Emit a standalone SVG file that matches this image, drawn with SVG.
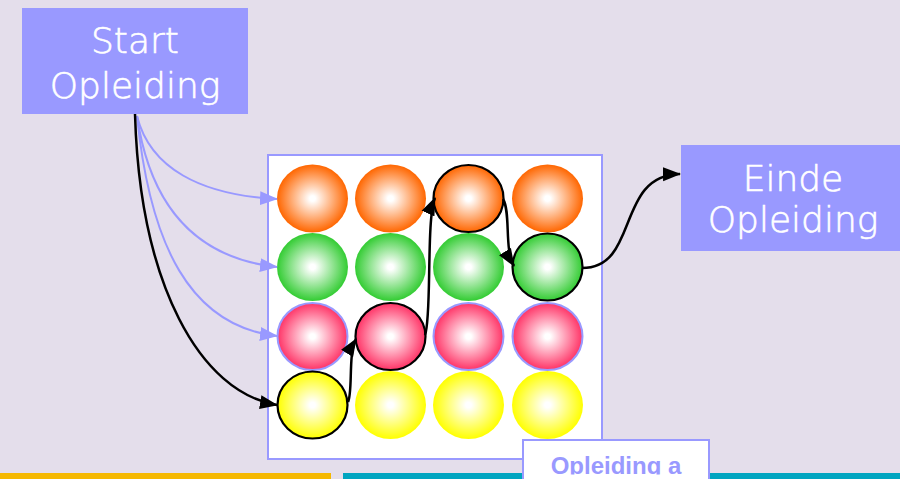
<svg xmlns="http://www.w3.org/2000/svg" width="900" height="479" viewBox="0 0 900 479">
<defs>
<radialGradient id="gO" cx="50%" cy="50%" r="50%"><stop offset="0" stop-color="#fff"/><stop offset="0.08" stop-color="#fff"/><stop offset="1" stop-color="#ff6600"/></radialGradient>
<radialGradient id="gG" cx="50%" cy="50%" r="50%"><stop offset="0" stop-color="#fff"/><stop offset="0.08" stop-color="#fff"/><stop offset="1" stop-color="#33cc33"/></radialGradient>
<radialGradient id="gR" cx="50%" cy="50%" r="50%"><stop offset="0" stop-color="#fff"/><stop offset="0.08" stop-color="#fff"/><stop offset="1" stop-color="#ff3366"/></radialGradient>
<radialGradient id="gY" cx="50%" cy="50%" r="50%"><stop offset="0" stop-color="#fff"/><stop offset="0.08" stop-color="#fff"/><stop offset="1" stop-color="#ffff00"/></radialGradient>
<marker id="aK" markerWidth="18" markerHeight="16" refX="17" refY="8" orient="auto" markerUnits="userSpaceOnUse"><path d="M0,1 L18,8 L0,15 Z" fill="#000"/></marker>
<marker id="aB" markerWidth="18" markerHeight="16" refX="17" refY="8" orient="auto" markerUnits="userSpaceOnUse"><path d="M0,1 L18,8 L0,15 Z" fill="#9999ff"/></marker>
<clipPath id="clipLbl"><rect x="522" y="440" width="188" height="34.5"/></clipPath>
</defs>
<style>
.box{fill:#9999ff}
.big{font-family:"DejaVu Sans","Liberation Sans",sans-serif;font-weight:200;font-size:36px;fill:#fff;stroke:#fff;stroke-width:0.6;text-anchor:middle}
.o{fill:url(#gO)}
.g{fill:url(#gG)}
.r{fill:url(#gR);stroke:#9999ff;stroke-width:2}
.y{fill:url(#gY)}
.hl{stroke:#000;stroke-width:2.2}
.cb{fill:none;stroke:#9999ff;stroke-width:2;marker-end:url(#aB)}
.ck{fill:none;stroke:#000;stroke-width:2.5;marker-end:url(#aK)}
</style>
<rect width="900" height="479" fill="#e4deeb"/>
<rect x="0" y="473" width="331" height="6" fill="#f5b800"/>
<rect x="343" y="473" width="557" height="6" fill="#00a5c0"/>

<g id="grid">
<rect x="268" y="155" width="334" height="304" fill="#fff" stroke="#9999ff" stroke-width="2"/>
<ellipse class="o" cx="312.5" cy="198.5" rx="35.5" ry="34"/>
<ellipse class="o" cx="390.5" cy="198.5" rx="35.5" ry="34"/>
<ellipse class="o hl" cx="468.5" cy="198.5" rx="35" ry="33.5"/>
<ellipse class="o" cx="547.5" cy="198.5" rx="35.5" ry="34"/>
<ellipse class="g" cx="312.5" cy="267" rx="35.5" ry="34"/>
<ellipse class="g" cx="390.5" cy="267" rx="35.5" ry="34"/>
<ellipse class="g" cx="468.5" cy="267" rx="35.5" ry="34"/>
<ellipse class="g hl" cx="547.5" cy="267" rx="35" ry="33.5"/>
<ellipse class="r" cx="312.5" cy="336.5" rx="35" ry="33.5"/>
<ellipse class="r hl" cx="390.5" cy="336.5" rx="35" ry="33.5"/>
<ellipse class="r" cx="468.5" cy="336.5" rx="35" ry="33.5"/>
<ellipse class="r" cx="547.5" cy="336.5" rx="35" ry="33.5"/>
<ellipse class="y hl" cx="312.5" cy="405" rx="35" ry="33.5"/>
<ellipse class="y" cx="390.5" cy="405" rx="35.5" ry="34"/>
<ellipse class="y" cx="468.5" cy="405" rx="35.5" ry="34"/>
<ellipse class="y" cx="547.5" cy="405" rx="35.5" ry="34"/>
</g>

<g id="start">
<rect class="box" x="22" y="8" width="226" height="106"/>
<text class="big" x="135" y="53">Start</text>
<text class="big" x="135" y="98">Opleiding</text>
</g>

<g id="einde">
<rect class="box" x="681" y="145" width="219" height="106"/>
<text class="big" x="793" y="191">Einde</text>
<text class="big" x="793" y="232">Opleiding</text>
</g>

<g id="label">
<rect x="523" y="440" width="186" height="45" fill="#fff" stroke="#9999ff" stroke-width="2"/>
<text x="616" y="474" clip-path="url(#clipLbl)" font-family="'Liberation Sans',Arial,sans-serif" font-weight="bold" font-size="24" fill="#9999ff" text-anchor="middle">Opleiding a</text>
</g>

<g id="connectors">
<path class="cb" d="M137,116 C150,168 200,195 277,199"/>
<path class="cb" d="M137,116 C150,205 195,258 277,267"/>
<path class="cb" d="M137,116 C150,245 190,326 277,336"/>
<path class="ck" d="M135,114 C140,285 200,392 277,405"/>
<path class="ck" d="M348,402 C353,392 348,352 356,339"/>
<path class="ck" d="M425,335 C432,318 426,218 435,198"/>
<path class="ck" d="M503,199 C511,212 504,250 514,266"/>
<path class="ck" d="M582,268 C640,268 615,175 680,174"/>
</g>
</svg>
